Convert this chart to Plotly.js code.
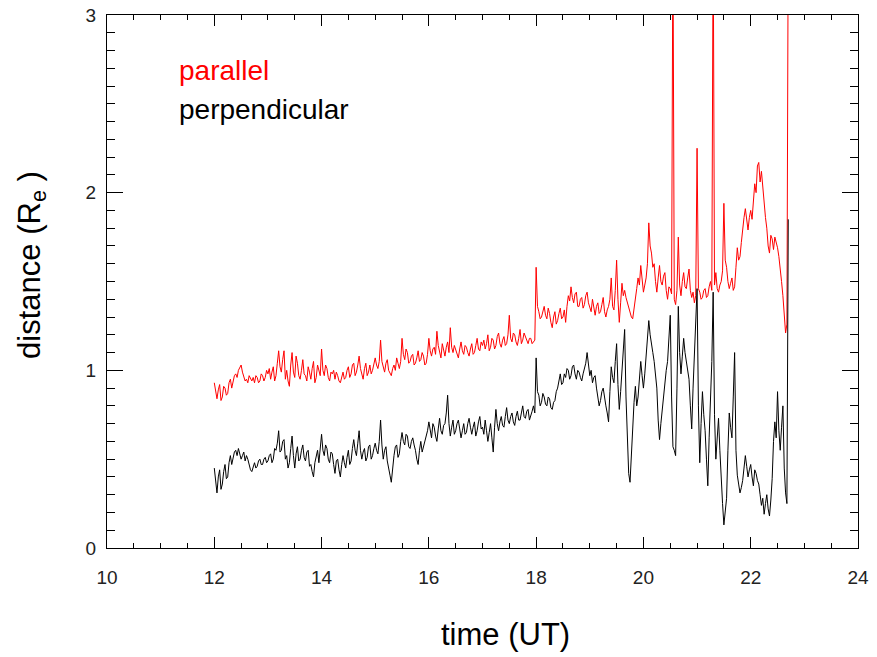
<!DOCTYPE html>
<html>
<head>
<meta charset="utf-8">
<script src="https://cdn.plot.ly/plotly-3.0.1.min.js"></script>
<style>html,body{margin:0;padding:0;background:#fff;}#chart{width:877px;height:657px;}</style>
</head>
<body>
<div id="chart"></div>
<script>
// time (UT hours)
var timeUT = [
12,12.025,12.05,12.075,12.1,12.125,12.15,12.175,12.2,12.225,12.25,12.275,12.3,12.325,12.35,12.375,12.4,12.425,12.45,12.475,12.5,12.525,12.55,12.575,12.6,12.625,12.65,12.675,12.7,12.725,12.75,12.775,12.8,12.825,12.85,12.875,12.9,12.925,12.95,12.975,
13,13.025,13.05,13.075,13.1,13.125,13.15,13.175,13.2,13.225,13.25,13.275,13.3,13.325,13.35,13.375,13.4,13.425,13.45,13.475,13.5,13.525,13.55,13.575,13.6,13.625,13.65,13.675,13.7,13.725,13.75,13.775,13.8,13.825,13.85,13.875,13.9,13.925,13.95,13.975,
14,14.025,14.05,14.075,14.1,14.125,14.15,14.175,14.2,14.225,14.25,14.275,14.3,14.325,14.35,14.375,14.4,14.425,14.45,14.475,14.5,14.525,14.55,14.575,14.6,14.625,14.65,14.675,14.7,14.725,14.75,14.775,14.8,14.825,14.85,14.875,14.9,14.925,14.95,14.975,
15,15.025,15.05,15.075,15.1,15.125,15.15,15.175,15.2,15.225,15.25,15.275,15.3,15.325,15.35,15.375,15.4,15.425,15.45,15.475,15.5,15.525,15.55,15.575,15.6,15.625,15.65,15.675,15.7,15.725,15.75,15.775,15.8,15.825,15.85,15.875,15.9,15.925,15.95,15.975,
16,16.025,16.05,16.075,16.1,16.125,16.15,16.175,16.2,16.225,16.25,16.275,16.3,16.325,16.35,16.375,16.4,16.425,16.45,16.475,16.5,16.525,16.55,16.575,16.6,16.625,16.65,16.675,16.7,16.725,16.75,16.775,16.8,16.825,16.85,16.875,16.9,16.925,16.95,16.975,
17,17.025,17.05,17.075,17.1,17.125,17.15,17.175,17.2,17.225,17.25,17.275,17.3,17.325,17.35,17.375,17.4,17.425,17.45,17.475,17.5,17.525,17.55,17.575,17.6,17.625,17.65,17.675,17.7,17.725,17.75,17.775,17.8,17.825,17.85,17.875,17.9,17.925,17.95,17.975,
18,18.025,18.05,18.075,18.1,18.125,18.15,18.175,18.2,18.225,18.25,18.275,18.3,18.325,18.35,18.375,18.4,18.425,18.45,18.475,18.5,18.525,18.55,18.575,18.6,18.625,18.65,18.675,18.7,18.725,18.75,18.775,18.8,18.825,18.85,18.875,18.9,18.925,18.95,18.975,
19,19.025,19.05,19.075,19.1,19.125,19.15,19.175,19.2,19.225,19.25,19.275,19.3,19.325,19.35,19.375,19.4,19.425,19.45,19.475,19.5,19.525,19.55,19.575,19.6,19.625,19.65,19.675,19.7,19.725,19.75,19.775,19.8,19.825,19.85,19.875,19.9,19.925,19.95,19.975,
20,20.025,20.05,20.075,20.1,20.125,20.15,20.175,20.2,20.225,20.25,20.275,20.3,20.325,20.35,20.375,20.4,20.425,20.45,20.475,20.5,20.525,20.55,20.575,20.6,20.625,20.65,20.675,20.7,20.725,20.75,20.775,20.8,20.825,20.85,20.875,20.9,20.925,20.95,20.975,
21,21.025,21.05,21.075,21.1,21.125,21.15,21.175,21.2,21.225,21.25,21.275,21.3,21.325,21.35,21.375,21.4,21.425,21.45,21.475,21.5,21.525,21.55,21.575,21.6,21.625,21.65,21.675,21.7,21.725,21.75,21.775,21.8,21.825,21.85,21.875,21.9,21.925,21.95,21.975,
22,22.025,22.05,22.075,22.1,22.125,22.15,22.175,22.2,22.225,22.25,22.275,22.3,22.325,22.35,22.375,22.4,22.425,22.45,22.475,22.5,22.525,22.55,22.575,22.6,22.625,22.65,22.675,22.7
];

// parallel distance (Re)
var parallel = [
0.93,0.88,0.84,0.89,0.92,0.83,0.85,0.91,0.90,0.86,0.87,0.93,0.95,0.90,0.93,0.97,0.98,0.96,1.00,1.02,1.03,0.99,0.97,0.94,0.95,0.93,0.97,0.95,0.94,0.96,0.93,0.97,0.96,0.93,0.94,0.98,0.97,0.94,0.96,1.00,
0.98,1.01,0.95,0.99,1.02,0.94,0.97,1.04,1.11,1.02,0.99,1.06,1.11,0.95,1.00,0.94,0.91,1.03,1.10,0.99,0.96,1.08,1.04,0.97,0.95,1.00,1.06,0.98,0.97,0.94,1.02,0.99,0.95,1.01,1.05,0.93,0.96,1.03,1.00,0.97,
1.12,1.00,0.97,1.03,1.01,0.96,0.94,0.99,0.98,1.00,0.95,0.99,0.97,0.94,0.93,0.97,0.99,0.95,0.96,1.00,1.02,0.96,0.98,1.03,1.04,0.97,0.99,1.03,1.08,1.01,0.98,0.95,1.01,1.04,0.97,0.99,1.03,0.98,1.00,1.04,
1.07,1.03,1.01,1.05,1.17,1.05,1.02,0.99,1.04,1.06,1.00,0.98,0.97,1.01,1.03,1.00,1.07,1.04,1.01,1.05,1.18,1.09,1.06,1.12,1.10,1.04,1.05,1.08,1.09,1.03,1.04,1.07,1.11,1.05,1.06,1.10,1.08,1.03,1.04,1.09,
1.18,1.11,1.08,1.12,1.13,1.09,1.22,1.14,1.10,1.07,1.15,1.11,1.08,1.13,1.16,1.10,1.24,1.13,1.10,1.14,1.12,1.09,1.07,1.12,1.16,1.11,1.09,1.14,1.13,1.10,1.08,1.12,1.15,1.09,1.10,1.14,1.18,1.12,1.11,1.16,
1.14,1.17,1.12,1.15,1.20,1.11,1.13,1.18,1.17,1.12,1.14,1.19,1.21,1.15,1.13,1.17,1.19,1.14,1.15,1.20,1.31,1.18,1.16,1.21,1.20,1.16,1.14,1.18,1.23,1.15,1.17,1.21,1.19,1.16,1.15,1.18,1.18,1.15,1.16,1.17,
1.58,1.36,1.33,1.29,1.30,1.34,1.36,1.31,1.29,1.35,1.32,1.27,1.24,1.30,1.33,1.26,1.28,1.32,1.35,1.29,1.30,1.34,1.27,1.36,1.42,1.39,1.47,1.41,1.38,1.43,1.44,1.36,1.36,1.40,1.41,1.35,1.37,1.42,1.44,1.38,
1.35,1.33,1.40,1.34,1.31,1.36,1.38,1.32,1.33,1.37,1.41,1.33,1.30,1.34,1.36,1.40,1.52,1.36,1.34,1.45,1.62,1.40,1.27,1.38,1.49,1.42,1.45,1.41,1.38,1.35,1.32,1.30,1.29,1.34,1.40,1.46,1.52,1.48,1.59,1.50,
1.44,1.48,1.52,1.60,1.83,1.70,1.66,1.58,1.60,1.50,1.44,1.52,1.59,1.50,1.48,1.53,1.55,1.45,1.40,1.47,1.46,1.43,3.50,1.40,1.37,1.45,1.75,1.48,1.42,1.50,1.55,1.47,1.46,1.52,1.57,1.45,1.41,1.44,1.38,1.42,
2.25,1.46,1.44,1.40,1.41,1.45,1.46,1.41,1.42,1.47,1.50,1.45,3.50,1.48,1.55,1.46,1.44,1.48,1.50,1.56,1.94,1.62,1.58,1.50,1.46,1.49,1.52,1.45,1.47,1.58,1.69,1.62,1.64,1.72,1.80,1.86,1.91,1.84,1.79,1.86,
1.90,1.85,1.97,2.05,2.00,2.15,2.17,2.06,2.12,2.02,1.95,1.86,1.80,1.70,1.66,1.76,1.74,1.68,1.75,1.72,1.69,1.64,1.58,1.50,1.42,1.30,1.21,1.26,3.50
];

// perpendicular distance (Re)
var perpendicular = [
0.45,0.38,0.31,0.40,0.44,0.33,0.36,0.43,0.47,0.39,0.40,0.48,0.52,0.47,0.50,0.54,0.55,0.52,0.56,0.53,0.50,0.52,0.54,0.49,0.52,0.50,0.47,0.44,0.43,0.46,0.48,0.45,0.46,0.49,0.50,0.47,0.47,0.50,0.51,0.48,
0.49,0.52,0.53,0.48,0.50,0.56,0.55,0.59,0.66,0.54,0.55,0.60,0.61,0.50,0.52,0.45,0.48,0.56,0.63,0.52,0.45,0.53,0.57,0.49,0.50,0.55,0.58,0.51,0.49,0.54,0.55,0.46,0.47,0.43,0.40,0.48,0.52,0.55,0.48,0.56,
0.64,0.55,0.52,0.58,0.56,0.50,0.48,0.54,0.53,0.47,0.42,0.49,0.50,0.44,0.40,0.47,0.52,0.48,0.45,0.51,0.55,0.47,0.49,0.56,0.61,0.55,0.52,0.59,0.66,0.55,0.50,0.54,0.56,0.49,0.51,0.57,0.58,0.50,0.52,0.56,
0.59,0.55,0.53,0.60,0.72,0.58,0.50,0.55,0.57,0.49,0.44,0.41,0.37,0.46,0.52,0.57,0.58,0.51,0.53,0.60,0.65,0.60,0.58,0.64,0.63,0.57,0.56,0.60,0.62,0.58,0.55,0.50,0.47,0.55,0.60,0.54,0.57,0.61,0.63,0.66,
0.71,0.65,0.62,0.70,0.68,0.63,0.60,0.67,0.73,0.66,0.64,0.69,0.70,0.76,0.86,0.70,0.63,0.68,0.72,0.64,0.66,0.70,0.72,0.67,0.62,0.66,0.70,0.64,0.65,0.70,0.73,0.68,0.64,0.68,0.71,0.63,0.66,0.71,0.74,0.67,
0.68,0.64,0.72,0.66,0.60,0.65,0.70,0.62,0.54,0.68,0.78,0.70,0.66,0.71,0.74,0.69,0.68,0.74,0.79,0.72,0.70,0.74,0.76,0.71,0.69,0.74,0.77,0.72,0.72,0.76,0.80,0.74,0.73,0.77,0.78,0.72,0.74,0.77,0.80,0.76,
1.07,0.88,0.86,0.80,0.82,0.87,0.85,0.81,0.80,0.85,0.84,0.79,0.78,0.82,0.83,0.88,0.90,0.95,0.98,0.92,0.93,0.98,0.96,1.01,1.00,0.95,0.97,1.02,1.03,0.98,0.95,1.00,0.99,0.96,0.94,0.98,1.01,1.04,1.10,1.02,
0.97,1.00,0.93,0.96,0.97,0.90,0.86,0.80,0.83,0.88,0.90,0.84,0.80,0.76,0.71,0.88,1.02,0.96,0.93,1.05,1.15,0.92,0.78,0.88,1.00,1.12,1.23,0.85,0.60,0.42,0.37,0.52,0.74,0.82,0.91,0.80,0.85,0.96,1.05,0.97,
0.90,0.98,1.07,1.15,1.28,1.20,1.16,1.10,1.05,0.96,0.90,0.72,0.61,0.70,0.78,0.86,0.92,1.00,1.05,1.18,1.31,0.85,0.57,0.55,0.52,0.90,1.36,1.10,0.98,1.08,1.18,1.10,1.05,1.00,0.95,0.80,0.67,0.90,1.12,1.30,
1.46,0.80,0.48,0.70,0.88,0.75,0.66,0.50,0.35,0.62,0.84,1.05,1.44,0.75,0.50,0.65,0.73,0.55,0.37,0.25,0.13,0.22,0.28,0.55,0.76,0.68,0.62,0.85,1.10,0.55,0.41,0.36,0.31,0.34,0.38,0.45,0.52,0.46,0.40,0.44,
0.47,0.40,0.35,0.44,0.42,0.38,0.36,0.30,0.24,0.28,0.19,0.25,0.30,0.22,0.18,0.27,0.39,0.60,0.71,0.62,0.88,0.66,0.55,0.68,0.80,0.45,0.31,0.25,1.85
];

var seriesNames = ['parallel', 'perpendicular'];
var xTitle = 'time (UT)';
var yTitle = 'distance (R<sub>e</sub> )';

var traces = [
  {x: timeUT, y: parallel, type: 'scatter', mode: 'lines', name: seriesNames[0],
   line: {color: '#ff0000', width: 1}},
  {x: timeUT, y: perpendicular, type: 'scatter', mode: 'lines', name: seriesNames[1],
   line: {color: '#000000', width: 1}}
];

var axisFont = {family: 'Liberation Sans, Arial, sans-serif', size: 19, color: '#222'};
var layout = {
  width: 877, height: 657,
  margin: {l: 107, r: 19, t: 15, b: 109},
  paper_bgcolor: '#fff', plot_bgcolor: '#fff',
  showlegend: false,
  xaxis: {
    range: [10, 24], dtick: 2, tick0: 10,
    showgrid: false, zeroline: false,
    showline: true, linecolor: '#000', linewidth: 1, mirror: 'ticks',
    ticks: 'inside', ticklen: 11, tickwidth: 1, tickcolor: '#000',
    minor: {dtick: 0.5, ticks: 'inside', ticklen: 5, tickwidth: 1, tickcolor: '#000', showgrid: false},
    tickfont: axisFont, ticklabelstandoff: 12
  },
  yaxis: {
    range: [0, 3], dtick: 1, tick0: 0,
    showgrid: false, zeroline: false,
    showline: true, linecolor: '#000', linewidth: 1, mirror: 'ticks',
    ticks: 'inside', ticklen: 16, tickwidth: 1, tickcolor: '#000',
    minor: {dtick: 0.1, ticks: 'inside', ticklen: 8, tickwidth: 1, tickcolor: '#000', showgrid: false},
    tickfont: axisFont, ticklabelstandoff: 6
  },
  annotations: [
    {text: seriesNames[0], xref: 'paper', yref: 'paper', x: 0.093, y: 0.895,
     xanchor: 'left', yanchor: 'middle', showarrow: false,
     font: {family: 'Liberation Sans, Arial, sans-serif', size: 28, color: '#ff0000'}},
    {text: seriesNames[1], xref: 'paper', yref: 'paper', x: 0.093, y: 0.822,
     xanchor: 'left', yanchor: 'middle', showarrow: false,
     font: {family: 'Liberation Sans, Arial, sans-serif', size: 28, color: '#000'}},
    {text: xTitle, xref: 'paper', yref: 'paper', x: 0.53, y: -0.163,
     xanchor: 'center', yanchor: 'middle', showarrow: false,
     font: {family: 'Liberation Sans, Arial, sans-serif', size: 31, color: '#000'}},
    {text: yTitle, xref: 'paper', yref: 'paper', x: -0.1, y: 0.531, textangle: -90,
     xanchor: 'center', yanchor: 'middle', showarrow: false,
     font: {family: 'Liberation Sans, Arial, sans-serif', size: 31, color: '#000'}}
  ]
};

Plotly.newPlot('chart', traces, layout, {displayModeBar: false, staticPlot: true});
</script>
</body>
</html>
